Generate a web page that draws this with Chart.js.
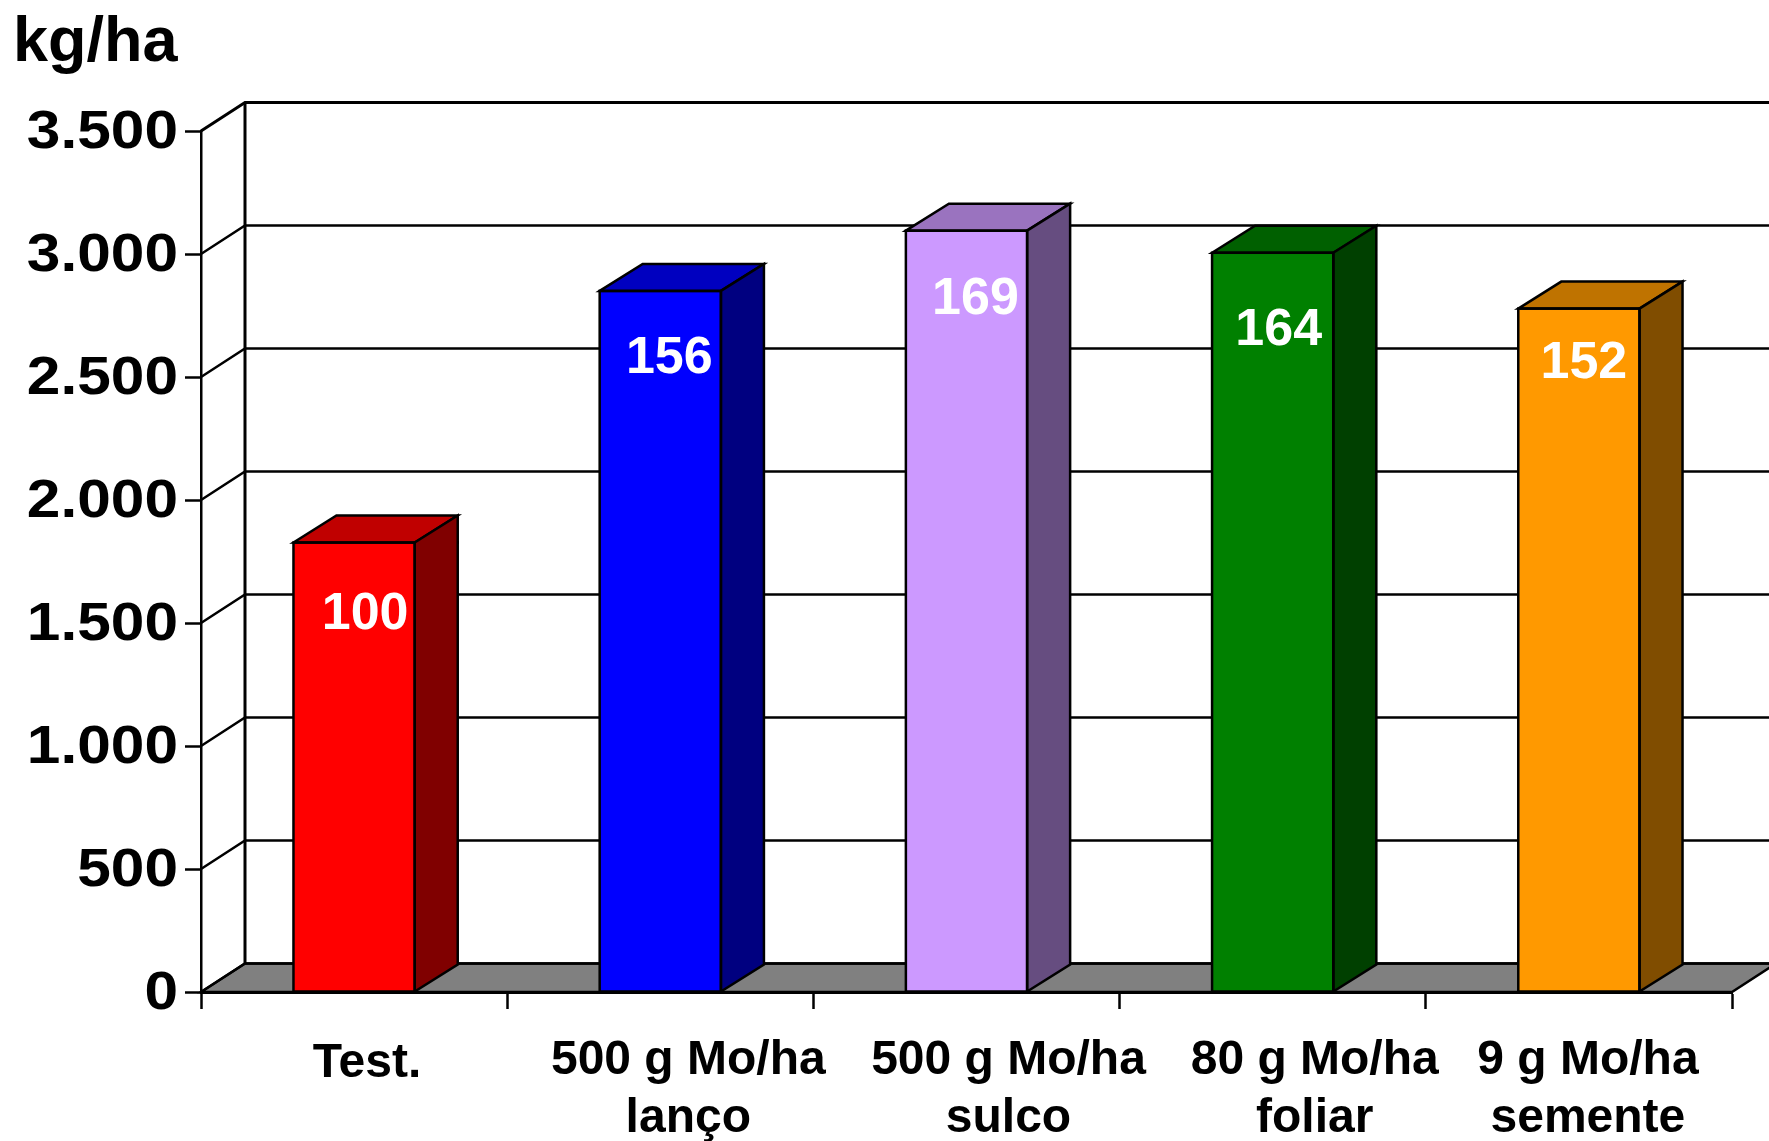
<!DOCTYPE html>
<html lang="pt">
<head>
<meta charset="utf-8">
<title>kg/ha</title>
<script src="https://cdn.jsdelivr.net/npm/chart.js@4/dist/chart.umd.min.js"></script>
<style>html,body{margin:0;padding:0;background:#fff;overflow:hidden}canvas{display:block}</style>
</head>
<body>
<canvas id="c" width="1769" height="1141"></canvas>
<script>
// Data
const categories = [["Test."], ["500 g Mo/ha", "lanço"], ["500 g Mo/ha", "sulco"], ["80 g Mo/ha", "foliar"], ["9 g Mo/ha", "semente"]];
const yields = [1827, 2850, 3095, 3005, 2778];
const relativeIndex = ["100", "156", "169", "164", "152"];
const yTickLabels = ["0", "500", "1.000", "1.500", "2.000", "2.500", "3.000", "3.500"];
const unitTitle = "kg/ha";

// Styling
const frontColors = ["#ff0000", "#0000ff", "#cc99ff", "#008000", "#ff9900"];
const topColors = ["#c00000", "#0000c0", "#9a73bf", "#006000", "#bf7300"];
const sideColors = ["#800000", "#000080", "#664d80", "#004000", "#804d00"];
const labelShiftX = [13, 28, 42, 42, 9];
const labelShiftY = [3, 0, 0, 0, 0];
const indexShiftX = [11, 9, 9, 6, 5];
const indexShiftY = [72, 68, 69, 78, 55];
const FONT = '"Liberation Sans", Arial, sans-serif';
const WALL_DX = 44, WALL_DY = 28.5, BAR_DX = 43, BAR_DY = 27;
const Y_LABEL_STRETCH = 1.14, Y_LABEL_RIGHT = 178, Y_LABEL_DROP = 2;
const LINE = 2.5;

const threeD = {
  id: 'threeD',
  beforeLayout(chart) {
    const x = chart.scales.x, y = chart.scales.y;
    if (x.__patched) return;
    x.__patched = true;
    const compute = x._computeLabelItems.bind(x);
    x._computeLabelItems = function (area) {
      const items = compute(area);
      items.forEach((it, i) => {
        it.options.translation = [it.options.translation[0] + labelShiftX[i], it.options.translation[1] + labelShiftY[i]];
      });
      return items;
    };
    const draw = y.drawLabels.bind(y);
    y.drawLabels = function (area) {
      const ctx = chart.ctx;
      ctx.save();
      ctx.translate(Y_LABEL_RIGHT, Y_LABEL_DROP);
      ctx.scale(Y_LABEL_STRETCH, 1);
      ctx.translate(-Y_LABEL_RIGHT, 0);
      draw(area);
      ctx.restore();
    };
  },
  beforeDraw(chart) {
    const { ctx, width, height, scales: { x, y } } = chart;
    const left = x.left, right = x.right, bottom = y.getPixelForValue(0), top = y.getPixelForValue(3500);
    ctx.save();
    ctx.fillStyle = '#fff';
    ctx.fillRect(0, 0, width, height);
    // floor
    ctx.beginPath();
    ctx.moveTo(left, bottom);
    ctx.lineTo(left + WALL_DX, bottom - WALL_DY);
    ctx.lineTo(right + WALL_DX, bottom - WALL_DY);
    ctx.lineTo(right, bottom);
    ctx.closePath();
    ctx.fillStyle = '#808080';
    ctx.fill();
    ctx.strokeStyle = '#000';
    ctx.lineWidth = LINE;
    ctx.stroke();
    // back wall and side wall lines
    y.ticks.forEach((t, i) => {
      const py = y.getPixelForValue(t.value);
      ctx.lineWidth = i === y.ticks.length - 1 ? 3 : LINE;
      ctx.beginPath();
      ctx.moveTo(left, py);
      ctx.lineTo(left + WALL_DX, py - WALL_DY);
      ctx.lineTo(right + WALL_DX, py - WALL_DY);
      ctx.stroke();
    });
    ctx.lineWidth = 3;
    ctx.beginPath();
    ctx.moveTo(left + WALL_DX, top - WALL_DY);
    ctx.lineTo(left + WALL_DX, bottom - WALL_DY);
    ctx.stroke();
    ctx.restore();
  },
  afterDatasetsDraw(chart) {
    const { ctx } = chart;
    const bars = chart.getDatasetMeta(0).data;
    ctx.save();
    ctx.strokeStyle = '#000';
    ctx.lineWidth = LINE;
    ctx.lineJoin = 'miter';
    bars.forEach((b, i) => {
      const l = b.x - b.width / 2, r = b.x + b.width / 2, t = b.y, base = b.base;
      ctx.beginPath();
      ctx.moveTo(l, t);
      ctx.lineTo(l + BAR_DX, t - BAR_DY);
      ctx.lineTo(r + BAR_DX, t - BAR_DY);
      ctx.lineTo(r, t);
      ctx.closePath();
      ctx.fillStyle = topColors[i];
      ctx.fill();
      ctx.stroke();
      ctx.beginPath();
      ctx.moveTo(r, t);
      ctx.lineTo(r + BAR_DX, t - BAR_DY);
      ctx.lineTo(r + BAR_DX, base - BAR_DY);
      ctx.lineTo(r, base);
      ctx.closePath();
      ctx.fillStyle = sideColors[i];
      ctx.fill();
      ctx.stroke();
      // front-face outline and index value
      ctx.strokeRect(l, t, r - l, base - t);
      ctx.fillStyle = '#fff';
      ctx.font = 'bold 52px ' + FONT;
      ctx.textAlign = 'center';
      ctx.textBaseline = 'middle';
      ctx.fillText(relativeIndex[i], b.x + indexShiftX[i], t + indexShiftY[i]);
    });
    ctx.restore();
  }
};

new Chart(document.getElementById('c'), {
  type: 'bar',
  data: {
    labels: categories,
    datasets: [{
      data: yields,
      backgroundColor: frontColors,
      borderColor: '#000',
      borderWidth: 0,
      barPercentage: 0.396,
      categoryPercentage: 1
    }]
  },
  plugins: [threeD],
  options: {
    responsive: false,
    animation: false,
    devicePixelRatio: 1,
    layout: { padding: { left: 13, right: 37, top: 0, bottom: 0 } },
    plugins: {
      legend: { display: false },
      tooltip: { enabled: false },
      title: {
        display: true,
        text: unitTitle,
        align: 'start',
        color: '#000',
        font: { family: FONT, size: 63, weight: 'bold', lineHeight: 1.2 },
        padding: { top: 6, bottom: 49.4 }
      }
    },
    scales: {
      x: {
        afterFit(s) { s.height = 149; },
        offset: true,
        grid: { offset: true, drawOnChartArea: false, color: '#000', tickColor: '#000', tickLength: 17, tickWidth: 2.5 },
        border: { color: '#000', width: 3 },
        ticks: {
          color: '#000',
          autoSkip: false,
          maxRotation: 0,
          minRotation: 0,
          padding: 22,
          font: { family: FONT, size: 48, weight: 'bold', lineHeight: 1.22 }
        }
      },
      y: {
        afterFit(s) { s.width = 188; },
        min: 0,
        max: 3500,
        grid: { drawOnChartArea: false, color: '#000', tickColor: '#000', tickLength: 16, tickWidth: 2.5 },
        border: { color: '#000', width: 2.5 },
        ticks: {
          stepSize: 500,
          color: '#000',
          padding: 7,
          font: { family: FONT, size: 53, weight: 'bold' },
          callback(value, index) { return yTickLabels[index]; }
        }
      }
    }
  }
});
</script>
</body>
</html>
